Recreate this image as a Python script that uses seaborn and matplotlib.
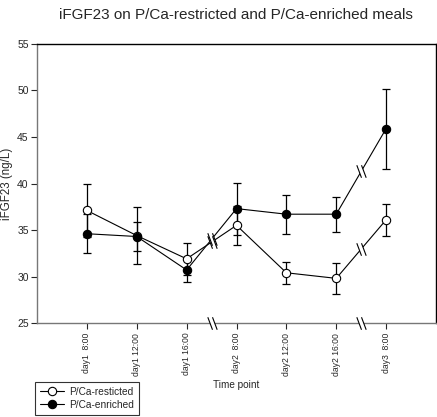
import numpy as np
import pandas as pd
import matplotlib
matplotlib.use("Agg")
import matplotlib.pyplot as plt
from matplotlib.path import Path
import seaborn as sns

time_points = ["day1  8:00", "day1 12:00", "day1 16:00", "day2  8:00",
               "day2 12:00", "day2 16:00", "day3  8:00"]
restricted = [37.1, 34.4, 31.9, 35.5, 30.4, 29.8, 36.1]
restricted_err = [2.8, 3.1, 1.7, 2.1, 1.2, 1.7, 1.7]
enriched = [34.6, 34.3, 30.7, 37.3, 36.7, 36.7, 45.9]
enriched_err = [2.1, 1.6, 1.3, 2.8, 2.1, 1.9, 4.3]
breaks_after = [2, 5]  # gaps in time between these points and the next

sns.set_style("ticks")
plt.rcParams["font.family"] = ["Liberation Sans", "DejaVu Sans"]

df = pd.DataFrame({
    "time": list(range(len(time_points))) * 2,
    "value": restricted + enriched,
    "err": restricted_err + enriched_err,
    "group": ["P/Ca-resticted"] * 7 + ["P/Ca-enriched"] * 7,
})

fig = plt.figure(figsize=(4.37, 4.17), dpi=100)
ax = fig.add_axes([0.0847, 0.2254, 0.913, 0.6691])

face = {"P/Ca-resticted": "white", "P/Ca-enriched": "black"}
for g, d in df.groupby("group", sort=False):
    ax.errorbar(d["time"], d["value"], yerr=d["err"], fmt="none",
                ecolor="black", elinewidth=0.9, capsize=3, capthick=0.9, zorder=2)
    sns.lineplot(data=d, x="time", y="value", ax=ax, color="black", lw=0.8,
                 marker="o", markersize=6, markerfacecolor=face[g],
                 markeredgecolor="black", markeredgewidth=0.8, label=g, zorder=3)

# break marks on the connecting lines and on the x axis
slash = Path([(-0.6, 0.8), (0.0, -0.8), (0.0, 0.8), (0.6, -0.8)],
             [Path.MOVETO, Path.LINETO, Path.MOVETO, Path.LINETO])
gap = Path([(-0.6, 0.8), (0.0, 0.8), (0.6, -0.8), (0.0, -0.8), (-0.6, 0.8)])
marks = [(i + 0.5, (s[i] + s[i + 1]) / 2) for s in (restricted, enriched)
         for i in breaks_after] + [(i + 0.5, 25) for i in breaks_after]
for xm, ym in marks:
    ax.plot(xm, ym, marker=gap, ms=9, mfc="white", mec="none", zorder=4,
            clip_on=False)
    ax.plot(xm, ym, marker=slash, ms=9, color="black", mew=0.8, zorder=5,
            clip_on=False)

ax.set_xlim(-1, 7)
ax.set_ylim(25, 55)
ax.set_yticks(range(25, 56, 5))
ax.set_xticks(range(len(time_points)))
ax.set_xticklabels(time_points, rotation=90, fontsize=6.2)
ax.tick_params(axis="y", labelsize=7.5, length=4, width=0.8, pad=2)
ax.tick_params(axis="x", length=4, width=0.8, pad=3)
ax.set_xlabel("Time point", fontsize=7.2, labelpad=3)
ax.set_ylabel("iFGF23 (ng/L)", fontsize=8.3, labelpad=3)
for s in ["left", "bottom"]:
    ax.spines[s].set_color("#777777")
for s in ["top", "right"]:
    ax.spines[s].set_color("black")
for s in ax.spines.values():
    s.set_linewidth(1.0)

fig.text(0.54, 0.965, "iFGF23 on P/Ca-restricted and P/Ca-enriched meals",
         ha="center", va="center", fontsize=11)

leg = ax.legend(loc="upper left", bbox_to_anchor=(-0.005, -0.21),
                frameon=True, fancybox=False, edgecolor="black", fontsize=7.3,
                handlelength=2.4, borderpad=0.5, labelspacing=0.3,
                handletextpad=0.5, borderaxespad=0)
leg.get_frame().set_linewidth(0.8)

fig.savefig("out.png", dpi=100)
